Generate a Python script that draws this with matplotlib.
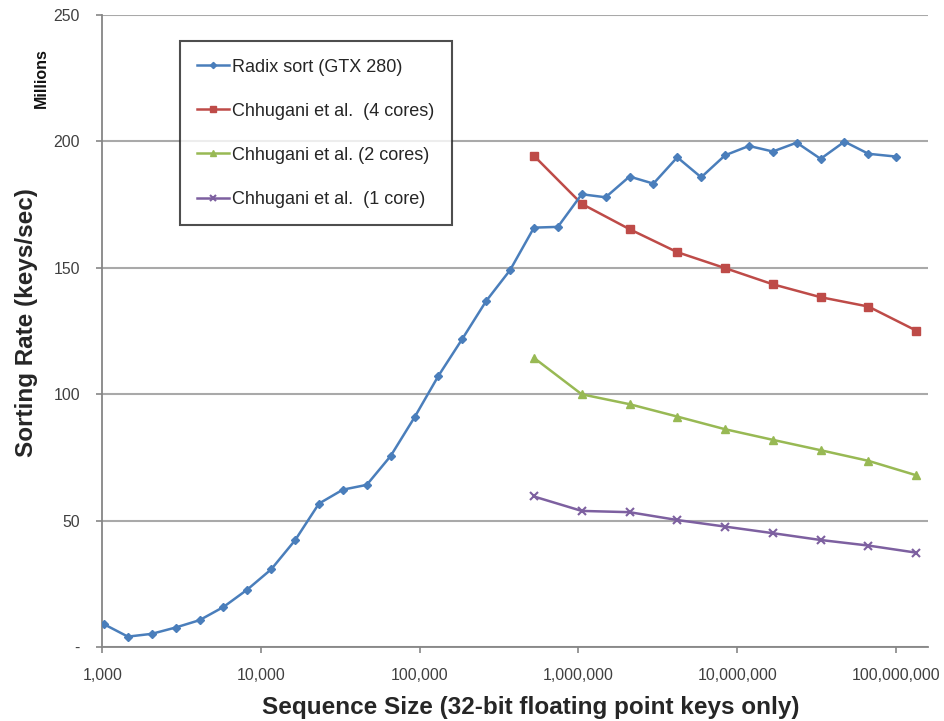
import numpy as np
import matplotlib
matplotlib.use("Agg")
from matplotlib import pyplot as plt
from matplotlib.ticker import FuncFormatter, FixedLocator, NullLocator

plt.rcParams['font.family'] = ['Liberation Sans', 'DejaVu Sans']

# sequence sizes (keys): radix runs 2^10 .. 2^26 in half-power steps, then 1e8
radix_n = [2 ** (p / 2) for p in range(20, 53)] + [1e8]
radix_rate = [9.1, 4.2, 5.3, 7.8, 10.7, 15.9, 22.8, 30.8, 42.3, 56.8, 62.3,
              64.2, 75.6, 90.9, 107.3, 121.9, 136.9, 149.1, 165.9, 166.2,
              179.1, 177.9, 186.1, 183.3, 193.7, 185.8, 194.5, 198.2, 196.0,
              199.5, 193.1, 199.9, 195.1, 194.0]

# cpu results at 2^19 .. 2^27
cpu_n = [2 ** p for p in range(19, 28)]
cores4 = [194.3, 175.3, 165.3, 156.2, 149.9, 143.5, 138.4, 134.7, 125.2]
cores2 = [114.4, 100.0, 96.1, 91.2, 86.2, 82.0, 77.9, 73.7, 68.0]
cores1 = [59.6, 53.9, 53.4, 50.3, 47.7, 45.1, 42.4, 40.2, 37.4]

labels = ['Radix sort (GTX 280)', 'Chhugani et al.  (4 cores)',
          'Chhugani et al. (2 cores)', 'Chhugani et al.  (1 core)']

fig = plt.figure(figsize=(9.45, 7.21), dpi=100)
ax = fig.add_axes([0.1083, 0.1023, 0.874, 0.877])

ax.plot(radix_n, radix_rate, color='#4a7ebb', lw=1.8, marker='D', ms=4.5,
        label=labels[0], zorder=5)
ax.plot(cpu_n, cores4, color='#be4b48', lw=1.8, marker='s', ms=6,
        label=labels[1], zorder=4)
ax.plot(cpu_n, cores2, color='#98b954', lw=1.8, marker='^', ms=6,
        label=labels[2], zorder=4)
ax.plot(cpu_n, cores1, color='#7d60a0', lw=1.8, marker='x', ms=6, mew=1.5,
        label=labels[3], zorder=4)

ax.set_xscale('log')
ax.set_xlim(1000, 1.6e8)
ax.set_ylim(0, 250)

ax.xaxis.set_major_locator(FixedLocator([1e3, 1e4, 1e5, 1e6, 1e7, 1e8]))
ax.xaxis.set_minor_locator(NullLocator())
ax.xaxis.set_major_formatter(FuncFormatter(lambda v, p: f'{int(round(v)):,}'))
ax.set_yticks([0, 50, 100, 150, 200, 250])
ax.yaxis.set_major_formatter(FuncFormatter(lambda v, p: '-' if v == 0 else f'{int(v)}'))

ax.grid(axis='y', color='#a9a9a9', lw=1.5)
ax.set_axisbelow(True)
for s in ['top', 'right']:
    ax.spines[s].set_visible(False)
for s in ['left', 'bottom']:
    ax.spines[s].set_color('#868686')
    ax.spines[s].set_linewidth(1.3)

ax.tick_params(axis='both', colors='#868686', labelcolor='#404040',
               labelsize=11.4, length=4, width=1.2)
ax.tick_params(axis='x', pad=11)
ax.tick_params(axis='y', pad=12)

ax.set_xlabel('Sequence Size (32-bit floating point keys only)', fontsize=17.5,
              fontweight='bold', color='#262626', labelpad=9)
ax.xaxis.label.set_x(0.519)
ax.set_ylabel('Sorting Rate (keys/sec)', fontsize=17.5, fontweight='bold',
              color='#262626', labelpad=11)
ax.yaxis.label.set_y(0.514)
fig.text(0.0434, 0.892, 'Millions', rotation=90, fontsize=11.5,
         fontweight='bold', ha='center', va='center', color='#111111')

leg = ax.legend(loc='upper left', bbox_to_anchor=(0.094, 0.958), fontsize=13,
                frameon=True, fancybox=False, edgecolor='#222222',
                labelspacing=1.5, handlelength=1.75, handletextpad=0.2,
                borderpad=0.95, borderaxespad=0, markerscale=0.7)
leg.get_frame().set_linewidth(1.5)
for t in leg.get_texts():
    t.set_color('#262626')

fig.savefig('out.png', dpi=100)
